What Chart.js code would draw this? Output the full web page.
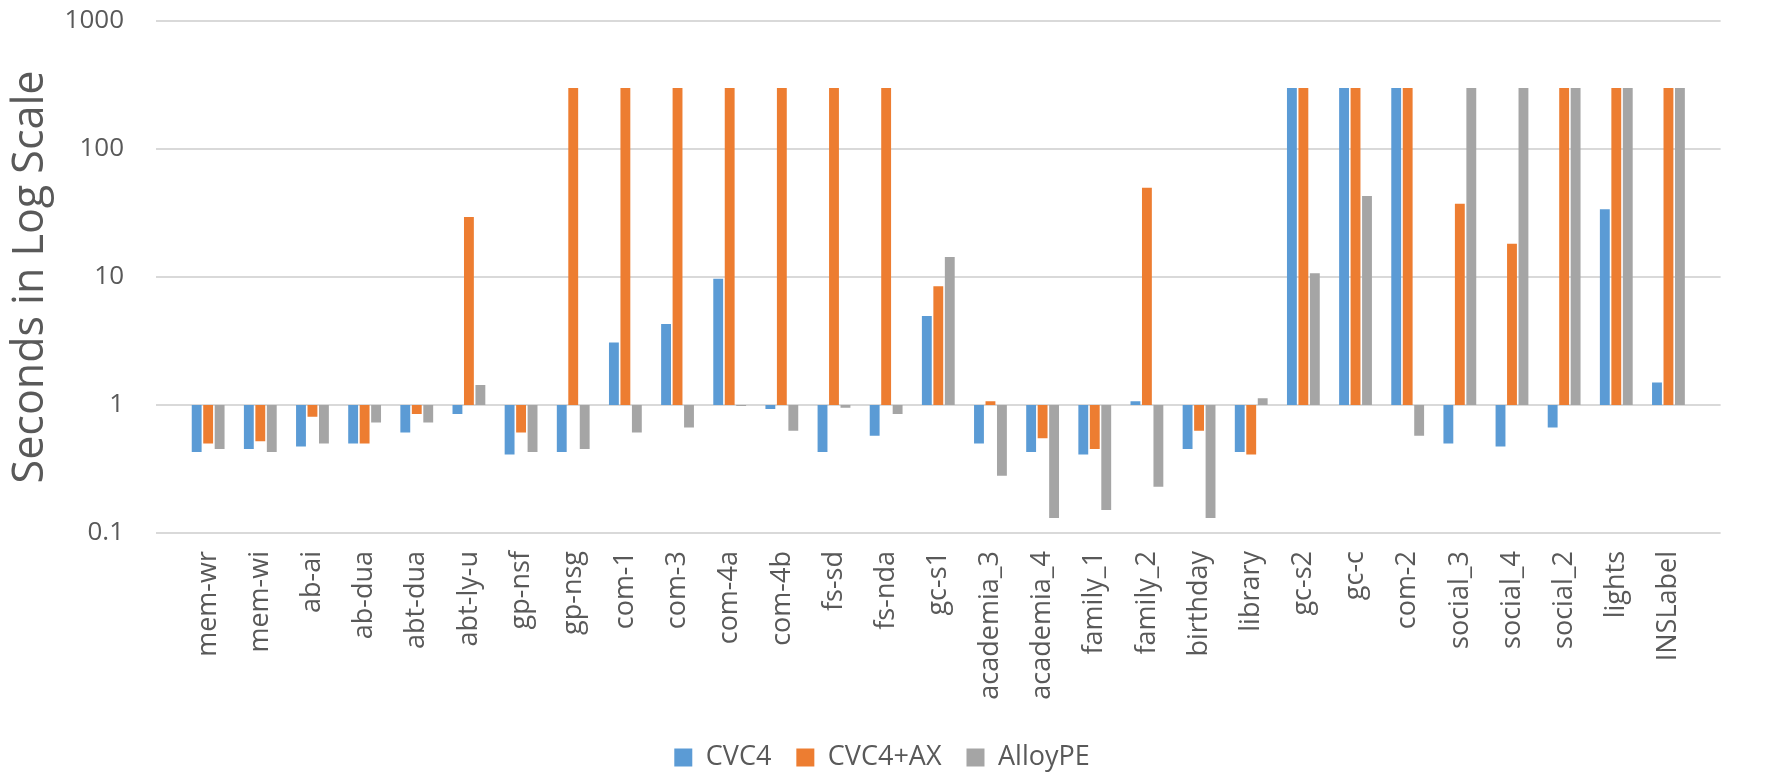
<!DOCTYPE html>
<html>
<head>
<meta charset="utf-8">
<title>Solver run times</title>
<script src="https://cdn.jsdelivr.net/npm/chart.js@4.4.1/dist/chart.umd.min.js"></script>
<style>
  html, body { margin: 0; padding: 0; background: #ffffff; }
  #wrap { width: 1771px; height: 775px; }
</style>
</head>
<body>
<div id="wrap"><canvas id="chart" width="1771" height="775"></canvas></div>
<script>
// Benchmarks on the horizontal axis
const categories = [
  'mem-wr', 'mem-wi', 'ab-ai', 'ab-dua', 'abt-dua', 'abt-ly-u', 'gp-nsf', 'gp-nsg',
  'com-1', 'com-3', 'com-4a', 'com-4b', 'fs-sd', 'fs-nda', 'gc-s1', 'academia_3',
  'academia_4', 'family_1', 'family_2', 'birthday', 'library', 'gc-s2', 'gc-c',
  'com-2', 'social_3', 'social_4', 'social_2', 'lights', 'INSLabel'
];

// Run times in seconds (300 = timeout)
const cvc4 = [
  0.43, 0.454, 0.474, 0.50, 0.61, 0.85, 0.41, 0.43,
  3.08, 4.3, 9.7, 0.93, 0.43, 0.575, 4.96, 0.50,
  0.43, 0.41, 1.07, 0.454, 0.43, 300, 300,
  300, 0.50, 0.474, 0.667, 33.9, 1.5
];
const cvc4ax = [
  0.50, 0.52, 0.81, 0.50, 0.85, 29.4, 0.61, 300,
  300, 300, 300, 300, 300, 300, 8.45, 1.07,
  0.55, 0.454, 49.9, 0.63, 0.41, 300, 300,
  300, 37.3, 18.2, 300, 300, 300
];
const alloype = [
  0.454, 0.43, 0.50, 0.73, 0.73, 1.43, 0.43, 0.454,
  0.61, 0.667, 0.98, 0.63, 0.95, 0.85, 14.3, 0.28,
  0.131, 0.151, 0.23, 0.131, 1.13, 10.7, 43,
  0.575, 300, 300, 300, 300, 300
];

// Decade ticks of the log axis
const yTicks = [0.1, 1, 10, 100, 1000];

const seriesNames = ['CVC4', 'CVC4+AX', 'AlloyPE'];
const seriesColors = ['#5B9BD5', '#ED7D31', '#A5A5A5'];
const baseline = 1; // bars grow up or down from 1 second

// A blank slot at each end leaves a half-category margin past the outer groups
const axisLabels = [''].concat(categories, ['']);
const toBars = vals => [null].concat(vals.map(v => [baseline, v]), [null]);

const textColor = '#595959';
const fontFamily = "'Open Sans', 'Liberation Sans', sans-serif";

new Chart(document.getElementById('chart'), {
  type: 'bar',
  data: {
    labels: axisLabels,
    datasets: [cvc4, cvc4ax, alloype].map((vals, i) => ({
      label: seriesNames[i],
      data: toBars(vals),
      backgroundColor: seriesColors[i],
      borderWidth: 0,
      categoryPercentage: 0.66,
      barPercentage: 0.86
    }))
  },
  options: {
    responsive: false,
    animation: false,
    layout: { padding: { top: 21, right: 7, left: 0, bottom: -6 } },
    plugins: {
      tooltip: { enabled: false },
      legend: {
        position: 'bottom',
        labels: {
          boxWidth: 18,
          boxHeight: 18,
          padding: 25,
          color: textColor,
          font: { family: fontFamily, size: 27 }
        }
      }
    },
    scales: {
      x: {
        type: 'category',
        offset: false,
        grid: { display: false, drawTicks: false },
        border: { display: false },
        ticks: {
          autoSkip: false,
          minRotation: 90,
          maxRotation: 90,
          padding: 18,
          color: textColor,
          font: { family: fontFamily, size: 27 }
        },
        afterFit: s => { s.height = 186; }
      },
      y: {
        type: 'logarithmic',
        min: 0.1,
        max: 1000,
        afterBuildTicks: s => { s.ticks = yTicks.map(v => ({ value: v })); },
        grid: { color: '#D9D9D9', lineWidth: 2, drawTicks: false },
        border: { display: false },
        ticks: {
          padding: 32,
          color: textColor,
          font: { family: fontFamily, size: 26 },
          callback: v => String(v)
        },
        title: {
          display: true,
          text: 'Seconds in Log Scale',
          color: textColor,
          font: { family: fontFamily, size: 43 },
          padding: { top: 5, bottom: 0 }
        },
        afterFit: s => {
          s.width = 156;
          // the label gap is horizontal only; keep it out of the vertical margins
          s.paddingTop = 0;
          s.paddingBottom = 0;
        }
      }
    }
  }
});
</script>
</body>
</html>
